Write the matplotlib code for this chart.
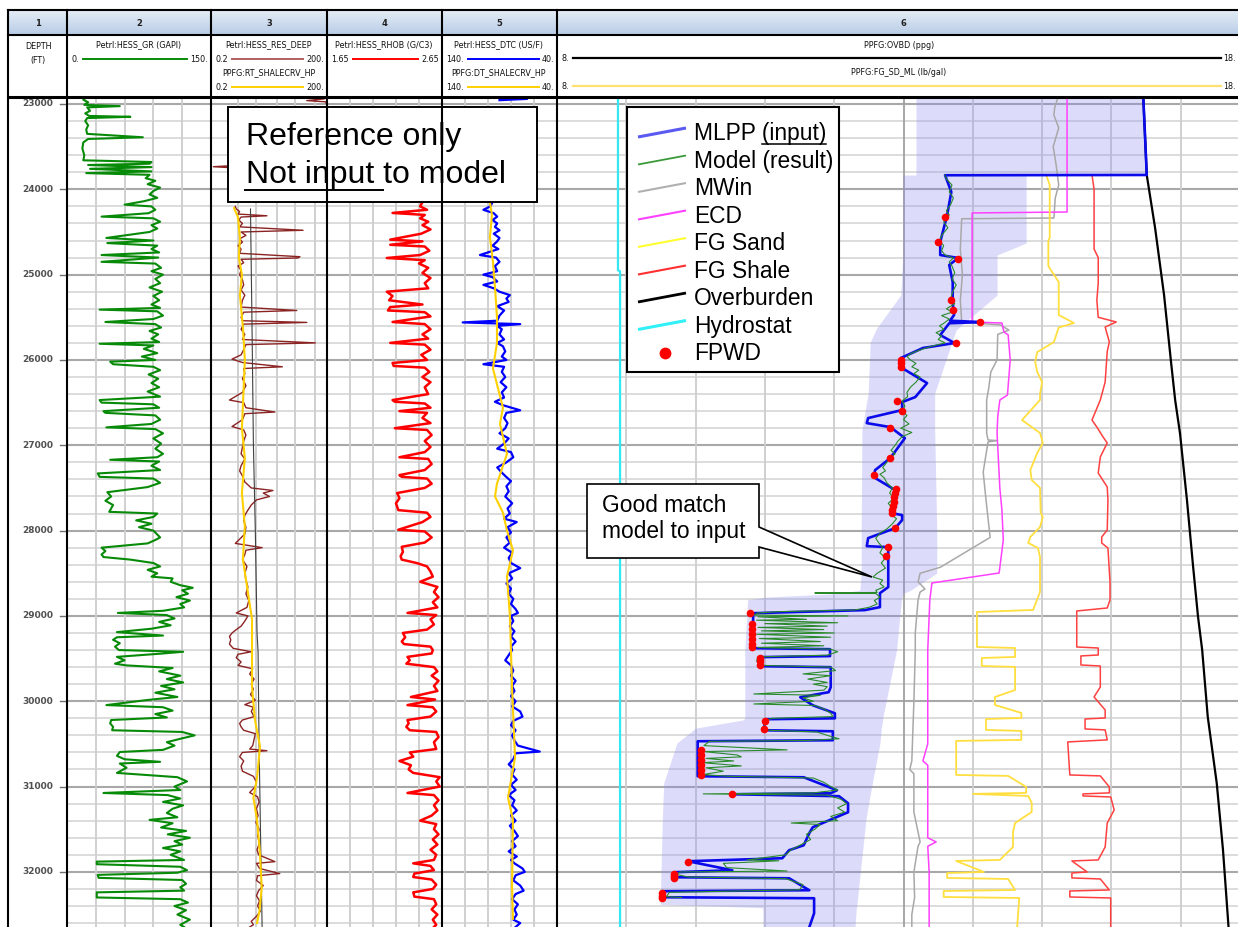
import numpy as np
import matplotlib.pyplot as plt
from matplotlib.colors import LinearSegmentedColormap
from matplotlib.patches import Rectangle, Polygon

nan = float('nan')

# ---------------- log curves: (depth ft, value) ----------------
GR = [
    (22918, 20), (22950, 17), (22980, 22), (23010, 18), (23025, 55), (23040, 21), (23080, 24),
    (23110, 19), (23140, 23), (23150, 66), (23165, 21), (23200, 19), (23250, 22), (23300, 20),
    (23350, 21), (23390, 79), (23410, 22), (23450, 17), (23520, 16), (23600, 18), (23660, 17),
    (23680, 88), (23700, 86), (23715, 22), (23740, 88), (23760, 24), (23790, 88), (23810, 20),
    (23830, 86), (23870, 82), (23900, 92), (23940, 84), (23980, 97), (24020, 90), (24060, 86),
    (24100, 94), (24140, 80), (24180, 60), (24200, 88), (24240, 92), (24280, 85), (24320, 36),
    (24340, 90), (24380, 97), (24420, 88), (24460, 94), (24500, 86), (24570, 41), (24600, 90),
    (24630, 42), (24660, 94), (24700, 88), (24740, 96), (24770, 36), (24800, 95), (24850, 36),
    (24870, 92), (24920, 98), (24960, 88), (25000, 100), (25050, 92), (25100, 97), (25150, 86),
    (25200, 99), (25250, 90), (25300, 96), (25350, 88), (25390, 97), (25410, 34), (25430, 94),
    (25480, 100), (25520, 90), (25555, 40), (25580, 92), (25620, 98), (25660, 86), (25700, 95),
    (25750, 88), (25790, 96), (25810, 34), (25830, 90), (25870, 80), (25920, 94), (25960, 78),
    (26000, 92), (26020, 45), (26050, 48), (26080, 90), (26120, 97), (26170, 85), (26220, 95),
    (26270, 88), (26320, 96), (26370, 84), (26430, 97), (26470, 34), (26500, 36), (26520, 90),
    (26560, 96), (26600, 38), (26620, 40), (26650, 92), (26700, 97), (26750, 88), (26790, 41),
    (26810, 92), (26860, 100), (26920, 90), (26980, 98), (27040, 92), (27100, 100), (27140, 94),
    (27170, 45), (27190, 96), (27240, 88), (27290, 97), (27330, 32), (27370, 34), (27390, 90),
    (27440, 97), (27490, 84), (27550, 42), (27600, 46), (27650, 40), (27700, 48), (27780, 44),
    (27800, 94), (27840, 90), (27880, 72), (27920, 88), (27960, 75), (28000, 90), (28080, 97),
    (28110, 92), (28150, 84), (28200, 36), (28240, 40), (28280, 36), (28310, 38), (28340, 66),
    (28380, 90), (28420, 97), (28460, 84), (28500, 94), (28540, 88), (28560, 110), (28600, 108),
    (28640, 118), (28670, 131), (28700, 120), (28740, 126), (28780, 114), (28820, 128),
    (28860, 118), (28900, 122), (28940, 100), (28965, 53), (28990, 104), (29030, 112),
    (29070, 96), (29110, 108), (29150, 88), (29190, 52), (29230, 100), (29250, 52), (29280, 48),
    (29320, 55), (29360, 50), (29400, 54), (29420, 121), (29440, 100), (29480, 52), (29520, 60),
    (29560, 50), (29580, 62), (29610, 110), (29650, 96), (29700, 118), (29740, 104),
    (29780, 121), (29820, 98), (29860, 112), (29900, 92), (29950, 115), (29985, 84), (30045, 41),
    (30070, 100), (30110, 110), (30150, 92), (30190, 104), (30220, 46), (30260, 45), (30300, 48),
    (30340, 47), (30360, 120), (30400, 133), (30440, 118), (30480, 104), (30520, 112),
    (30570, 100), (30595, 55), (30640, 52), (30680, 60), (30710, 97), (30730, 55), (30780, 62),
    (30840, 52), (30890, 115), (30940, 125), (31000, 112), (31040, 118), (31075, 38),
    (31100, 105), (31140, 118), (31180, 100), (31220, 121), (31260, 110), (31310, 104),
    (31360, 115), (31390, 86), (31430, 110), (31480, 98), (31520, 124), (31560, 105),
    (31600, 128), (31640, 112), (31680, 120), (31720, 100), (31760, 118), (31800, 108),
    (31860, 122), (31880, 31), (31910, 31), (31940, 118), (31980, 125), (32010, 115),
    (32035, 32), (32070, 33), (32095, 120), (32140, 124), (32180, 118), (32220, 122),
    (32240, 31), (32300, 31), (32320, 118), (32360, 126), (32400, 112), (32450, 124),
    (32500, 115), (32560, 128), (32620, 118), (32646, 122),
]

RES_DEEP = [
    (22918, 190), (22940, 170), (22960, 60), (22975, 190), (22990, 190), (23000, nan),
    (23720, 0.9), (23735, 0.23), (23750, 0.9), (23760, nan),
    (24200, 0.85), (24230, 0.9), (24260, 1.1), (24290, 1.0), (24310, 5.6), (24325, 1.2),
    (24360, 1.05), (24400, 1.3), (24440, 1.1), (24480, 48), (24500, 1.2), (24540, 1.6),
    (24580, 1.1), (24620, 1.3), (24660, 1.0), (24700, 1.2), (24750, 1.1), (24790, 40),
    (24805, 35), (24820, 1.2), (24860, 1.4), (24900, 1.0), (24950, 1.2), (25000, 1.1),
    (25060, 1.3), (25120, 1.4), (25180, 1.2), (25240, 1.5), (25300, 1.3), (25380, 1.2),
    (25420, 33), (25440, 1.4), (25500, 1.2), (25540, 1.3), (25560, 60), (25580, 1.4),
    (25640, 1.2), (25700, 1.5), (25760, 1.3), (25800, 100), (25820, 1.6), (25880, 1.4),
    (25940, 1.2), (25990, 0.7), (26030, 1.3), (26080, 14), (26100, 1.4), (26160, 1.5),
    (26220, 1.3), (26300, 1.6), (26380, 1.3), (26470, 0.6), (26500, 1.4), (26560, 1.6),
    (26610, 9), (26630, 1.5), (26700, 1.3), (26780, 0.7), (26820, 1.4), (26880, 1.6),
    (26950, 1.4), (27020, 1.3), (27100, 1.2), (27160, 1.5), (27240, 1.2), (27300, 1.1),
    (27360, 1.3), (27430, 1.5), (27500, 2.2), (27530, 8.0), (27560, 4.5), (27600, 6.5),
    (27640, 3.0), (27700, 2.2), (27760, 1.8), (27820, 1.5), (27880, 1.4), (27960, 1.6),
    (28040, 1.5), (28150, 0.85), (28200, 4.2), (28230, 1.6), (28280, 1.5), (28340, 1.3),
    (28420, 1.7), (28500, 1.5), (28580, 1.6), (28660, 1.8), (28740, 1.6), (28820, 1.9),
    (28900, 1.7), (28965, 0.9), (29000, 1.8), (29060, 1.5), (29120, 1.2), (29160, 0.9),
    (29200, 0.7), (29240, 0.6), (29280, 0.65), (29330, 0.6), (29380, 0.75), (29420, 2.2),
    (29450, 1.0), (29490, 0.9), (29540, 1.2), (29580, 1.0), (29620, 2.4), (29680, 2.0),
    (29740, 2.6), (29800, 2.2), (29860, 2.5), (29920, 2.1), (29990, 2.8), (30040, 1.5),
    (30070, 2.5), (30120, 2.2), (30180, 2.6), (30220, 1.3), (30260, 1.1), (30300, 1.2),
    (30340, 1.4), (30380, 2.8), (30450, 2.6), (30520, 2.4), (30560, 2.0), (30580, 5.6),
    (30600, 1.3), (30650, 1.1), (30700, 1.4), (30760, 1.2), (30820, 1.3), (30880, 2.5),
    (30950, 3.0), (31000, 2.8), (31070, 2.0), (31120, 3.2), (31180, 3.5), (31260, 3.0),
    (31340, 3.3), (31420, 2.9), (31500, 3.5), (31580, 3.2), (31660, 3.6), (31740, 3.1),
    (31800, 3.4), (31880, 9), (31900, 3.0), (31960, 3.6), (32020, 12), (32045, 3.2),
    (32100, 3.0), (32160, 4.5), (32220, 3.4), (32280, 3.0), (32340, 3.6), (32400, 3.2),
    (32460, 3.8), (32520, 3.0), (32580, 2.2), (32620, 2.5), (32646, 2.0),
]

RES_SHALE = [
    (24220, 0.79), (24330, 1.0), (24570, 1.12), (24800, 1.05), (25000, 1.26), (25240, 1.12),
    (25620, 1.34), (26000, 1.5), (26800, 1.26), (27150, 1.5), (27560, 1.26), (27950, 1.5),
    (28340, 1.34), (28730, 1.81), (29040, 2.3), (29830, 2.3), (30220, 2.74), (30530, 3.7),
    (30900, 3.1), (31130, 2.5), (31390, 3.1), (31790, 3.7), (32180, 4.1), (32450, 3.6),
    (32600, 3.1),
]

RES_BASE = [
    (24230, 2.1), (25600, 2.3), (27000, 2.5), (28000, 2.8), (29200, 3.1), (29420, 3.3),
    (30500, 3.5), (31500, 3.8), (32646, 4.2),
]

RHOB = [
    (24150, 2.48), (24200, 2.46), (24240, 2.52), (24277, 2.22), (24300, 2.50), (24340, 2.46),
    (24380, 2.53), (24420, 2.48), (24470, 2.55), (24520, 2.47), (24590, 2.20), (24610, 2.48),
    (24650, 2.20), (24670, 2.50), (24720, 2.54), (24770, 2.46), (24805, 2.17), (24830, 2.50),
    (24870, 2.45), (24920, 2.53), (24980, 2.48), (25040, 2.55), (25100, 2.50), (25160, 2.53),
    (25200, 2.17), (25250, 2.22), (25300, 2.19), (25350, 2.48), (25380, 2.20), (25420, 2.18),
    (25440, 2.50), (25490, 2.55), (25555, 2.22), (25580, 2.50), (25640, 2.55), (25700, 2.48),
    (25750, 2.53), (25800, 2.20), (25820, 2.50), (25880, 2.55), (25940, 2.47), (26000, 2.52),
    (26035, 2.22), (26070, 2.23), (26090, 2.50), (26140, 2.54), (26200, 2.48), (26260, 2.55),
    (26320, 2.50), (26400, 2.53), (26470, 2.22), (26490, 2.24), (26510, 2.50), (26560, 2.55),
    (26600, 2.28), (26620, 2.52), (26680, 2.48), (26740, 2.55), (26800, 2.24), (26820, 2.52),
    (26880, 2.56), (26950, 2.50), (27020, 2.55), (27080, 2.50), (27140, 2.28), (27160, 2.53),
    (27220, 2.56), (27290, 2.50), (27350, 2.28), (27370, 2.30), (27390, 2.52), (27450, 2.56),
    (27500, 2.50), (27560, 2.26), (27620, 2.28), (27680, 2.25), (27760, 2.27), (27790, 2.52),
    (27840, 2.55), (27900, 2.48), (27990, 2.27), (28010, 2.50), (28080, 2.56), (28140, 2.50),
    (28190, 2.30), (28250, 2.31), (28300, 2.29), (28340, 2.30), (28380, 2.43), (28420, 2.52),
    (28480, 2.55), (28540, 2.57), (28600, 2.46), (28660, 2.61), (28720, 2.58), (28780, 2.62),
    (28840, 2.57), (28900, 2.61), (28965, 2.35), (28990, 2.60), (29040, 2.55), (29100, 2.58),
    (29160, 2.52), (29200, 2.31), (29250, 2.33), (29300, 2.30), (29330, 2.32), (29360, 2.55),
    (29400, 2.57), (29440, 2.56), (29480, 2.35), (29520, 2.37), (29560, 2.34), (29600, 2.58),
    (29650, 2.61), (29700, 2.56), (29760, 2.62), (29820, 2.58), (29880, 2.61), (29950, 2.38),
    (29980, 2.59), (30045, 2.35), (30070, 2.57), (30120, 2.60), (30180, 2.55), (30220, 2.35),
    (30260, 2.36), (30300, 2.34), (30340, 2.37), (30360, 2.60), (30420, 2.62), (30480, 2.58),
    (30560, 2.60), (30600, 2.37), (30650, 2.40), (30700, 2.28), (30750, 2.38), (30800, 2.36),
    (30840, 2.40), (30890, 2.63), (30940, 2.60), (31000, 2.63), (31075, 2.35), (31100, 2.58),
    (31160, 2.62), (31220, 2.58), (31280, 2.61), (31340, 2.56), (31400, 2.46), (31440, 2.60),
    (31500, 2.58), (31560, 2.62), (31620, 2.57), (31680, 2.61), (31740, 2.55), (31800, 2.60),
    (31860, 2.58), (31900, 2.40), (31930, 2.55), (31980, 2.58), (32020, 2.41), (32060, 2.40),
    (32090, 2.56), (32150, 2.60), (32200, 2.57), (32240, 2.40), (32290, 2.41), (32320, 2.58),
    (32380, 2.60), (32440, 2.56), (32500, 2.61), (32560, 2.57), (32620, 2.60), (32646, 2.58),
]

DTC = [
    (22918, 92), (22940, 66), (22955, 90), (22970, nan),
    (24150, 96), (24200, 98), (24240, 104), (24280, 95), (24320, 92), (24360, 96), (24400, 92),
    (24440, 94), (24480, 90), (24520, 95), (24570, 90), (24610, 92), (24660, 96), (24700, 91),
    (24770, 107), (24800, 93), (24850, 90), (24900, 94), (24960, 92), (25000, 104), (25030, 96),
    (25080, 92), (25120, 104), (25160, 95), (25200, 90), (25240, 81), (25280, 84), (25320, 82),
    (25370, 92), (25420, 86), (25480, 90), (25540, 92), (25560, 122), (25580, 72), (25600, 92),
    (25640, 88), (25700, 90), (25760, 86), (25800, 92), (25840, 87), (25900, 85), (25960, 88),
    (26000, 84), (26050, 104), (26080, 86), (26140, 88), (26200, 85), (26260, 89), (26320, 84),
    (26380, 88), (26440, 86), (26490, 94), (26530, 87), (26590, 72), (26620, 84), (26680, 86),
    (26740, 83), (26800, 85), (26860, 90), (26920, 82), (26980, 86), (27040, 92), (27080, 80),
    (27140, 78), (27200, 84), (27260, 92), (27320, 88), (27360, 85), (27420, 80), (27480, 84),
    (27540, 82), (27600, 85), (27680, 79), (27740, 83), (27800, 81), (27860, 86), (27900, 75),
    (27960, 83), (28020, 80), (28080, 84), (28140, 81), (28200, 86), (28260, 79), (28320, 82),
    (28380, 80), (28440, 72), (28500, 82), (28560, 79), (28620, 84), (28680, 80), (28740, 82),
    (28800, 78), (28860, 80), (28920, 76), (28965, 74), (29000, 80), (29060, 78), (29120, 81),
    (29180, 77), (29240, 80), (29300, 76), (29360, 80), (29400, 79), (29460, 82), (29520, 85),
    (29580, 80), (29640, 78), (29700, 80), (29760, 76), (29820, 79), (29880, 77), (29940, 80),
    (30000, 76), (30060, 79), (30120, 72), (30180, 70), (30230, 78), (30280, 80), (30340, 76),
    (30400, 79), (30460, 77), (30520, 74), (30590, 55), (30610, 76), (30680, 78), (30740, 82),
    (30800, 77), (30860, 79), (30920, 75), (30980, 80), (31040, 76), (31100, 82), (31160, 77),
    (31220, 79), (31280, 75), (31340, 80), (31400, 76), (31460, 81), (31520, 77), (31580, 74),
    (31640, 79), (31700, 76), (31760, 82), (31820, 75), (31860, 80), (31900, 77), (31960, 70),
    (32000, 68), (32040, 76), (32100, 78), (32160, 72), (32220, 69), (32260, 76), (32320, 79),
    (32380, 74), (32440, 77), (32500, 75), (32560, 78), (32600, 72), (32646, 76),
]

DT_SHALE = [
    (24150, 98.3), (24300, 96.6), (24560, 98.3), (24850, 95.7), (25150, 93.9), (25500, 92.2),
    (25800, 92.2), (26100, 95.7), (26560, 87.0), (26750, 89.6), (27100, 83.5), (27450, 92.2),
    (27600, 93.9), (27790, 87.0), (28000, 83.5), (28230, 78.3), (28540, 83.5), (29010, 80.9),
    (29830, 79.1), (30660, 76.5), (31130, 82.6), (31390, 78.3), (32170, 79.1), (32550, 78.3),
]

# ---------------- pore pressure track: (depth ft, ppg) ----------------
MLPP = [
    (22918, 16.46), (23821, 16.51), (23832, 16.51), (23835, 13.60), (24031, 13.69), (24301, 13.63),
    (24617, 13.53), (24770, 13.53), (24805, 13.79), (24887, 13.66), (25086, 13.71), (25321, 13.71),
    (25473, 13.73), (25540, 13.67), (25556, 14.12), (25570, 13.66), (25708, 13.53), (25790, 13.71),
    (25801, 13.74), (25860, 13.28), (25978, 12.96), (26095, 12.98), (26271, 13.34), (26435, 13.17),
    (26494, 12.98), (26587, 12.98), (26681, 12.49), (26740, 12.47), (26787, 12.81), (26916, 13.02),
    (27150, 12.81), (27291, 12.59), (27373, 12.57), (27525, 12.88), (27795, 12.83), (27818, 12.98),
    (27877, 12.98), (27971, 12.88), (28088, 12.49), (28182, 12.47), (28194, 12.78), (28662, 12.78),
    (28733, 12.66), (28897, 12.66), (28932, 12.44), (28968, 10.83), (29378, 10.83), (29390, 11.94),
    (29471, 11.94), (29483, 10.93), (29589, 10.93), (29601, 11.95), (29836, 11.95), (29894, 11.92),
    (29953, 11.51), (30047, 11.69), (30141, 12.01), (30200, 12.01), (30211, 11.00), (30340, 10.99),
    (30352, 11.98), (30457, 11.98), (30469, 10.03), (30879, 10.03), (30891, 11.56), (31043, 12.04),
    (31078, 11.95), (31090, 10.53), (31113, 12.07), (31196, 12.20), (31301, 12.20), (31477, 11.69),
    (31547, 11.64), (31688, 11.56), (31746, 11.35), (31840, 11.25), (31875, 9.89), (31981, 10.53),
    (32004, 9.70), (32063, 9.70), (32075, 11.35), (32215, 11.64), (32227, 9.52), (32297, 9.52),
    (32309, 11.71), (32485, 11.71), (32650, 11.64),
]

MODEL = [
    (23832, 13.60), (23880, 13.62), (23950, 13.70), (24030, 13.66), (24100, 13.72), (24180, 13.68),
    (24250, 13.62), (24300, 13.66), (24380, 13.58), (24450, 13.64), (24530, 13.56), (24600, 13.52),
    (24660, 13.58), (24720, 13.55), (24770, 13.60), (24805, 13.72), (24850, 13.66), (24900, 13.70),
    (24980, 13.74), (25050, 13.70), (25120, 13.76), (25200, 13.71), (25280, 13.68), (25340, 13.74),
    (25400, 13.62), (25440, 13.70), (25480, 13.55), (25520, 13.66), (25560, 13.60), (25600, 13.52),
    (25640, 13.58), (25680, 13.47), (25720, 13.55), (25760, 13.50), (25800, 13.60), (25840, 13.40),
    (25880, 13.25), (25920, 13.12), (25960, 13.05), (26000, 13.10), (26040, 13.18), (26080, 13.12),
    (26120, 13.22), (26160, 13.15), (26200, 13.24), (26260, 13.18), (26320, 13.10), (26380, 13.05),
    (26430, 13.06), (26480, 12.98), (26540, 13.02), (26600, 12.98), (26650, 13.05), (26700, 13.00),
    (26750, 13.08), (26800, 12.96), (26850, 13.12), (26900, 12.98), (26950, 12.92), (27000, 12.88),
    (27060, 12.82), (27100, 12.88), (27150, 12.80), (27200, 12.76), (27260, 12.70), (27300, 12.74),
    (27340, 12.66), (27380, 12.72), (27440, 12.76), (27500, 12.84), (27560, 12.80), (27620, 12.86),
    (27680, 12.78), (27740, 12.84), (27800, 12.80), (27860, 12.90), (27920, 12.84), (27980, 12.76),
    (28030, 12.66), (28090, 12.60), (28140, 12.64), (28200, 12.70), (28260, 12.66), (28320, 12.74),
    (28380, 12.68), (28440, 12.74), (28500, 12.62), (28544, 12.56), (28580, 12.70), (28620, 12.66),
    (28660, 12.72), (28700, 12.60), (28725, 12.62), (28731, 11.72), (28737, 12.60), (28780, 12.66),
    (28820, 12.58), (28860, 12.62), (28900, 12.50), (28930, 12.30), (28950, 11.20), (28965, 10.90),
    (28990, 10.85), (29000, 12.20), (29010, 10.90), (29040, 11.60), (29050, 10.88), (29080, 12.05),
    (29090, 11.00), (29120, 11.90), (29135, 10.90), (29160, 11.85), (29175, 10.95), (29200, 12.00),
    (29215, 10.88), (29250, 11.95), (29265, 10.92), (29300, 11.80), (29320, 10.95), (29350, 11.85),
    (29370, 10.90), (29390, 11.95), (29420, 12.05), (29460, 11.90), (29480, 10.90), (29530, 10.88),
    (29580, 10.95), (29600, 11.95), (29640, 12.02), (29680, 11.55), (29700, 11.95), (29740, 11.62),
    (29780, 11.90), (29800, 11.70), (29830, 11.90), (29870, 11.85), (29915, 10.84), (29930, 11.80),
    (29960, 11.55), (30000, 11.70), (30032, 10.84), (30050, 11.72), (30090, 11.85), (30140, 11.95),
    (30180, 11.98), (30200, 11.10), (30240, 10.98), (30300, 11.00), (30340, 11.05), (30360, 11.75),
    (30400, 11.90), (30440, 12.07), (30460, 11.60), (30470, 10.20), (30520, 10.12), (30570, 11.32),
    (30590, 10.12), (30630, 10.60), (30652, 10.66), (30670, 10.15), (30700, 10.55), (30720, 10.10),
    (30758, 10.66), (30780, 10.15), (30820, 10.40), (30860, 10.10), (30880, 10.50), (30900, 11.70),
    (30950, 11.85), (31000, 11.95), (31040, 12.05), (31074, 11.70), (31086, 10.11), (31100, 11.90),
    (31150, 12.10), (31200, 12.18), (31250, 12.05), (31300, 12.15), (31350, 11.95), (31400, 12.05),
    (31427, 11.38), (31445, 11.80), (31500, 11.72), (31560, 11.60), (31620, 11.66), (31690, 11.50),
    (31740, 11.38), (31800, 11.30), (31860, 10.74), (31870, 11.20), (31900, 10.40), (31950, 10.45),
    (31990, 11.32), (32001, 9.78), (32030, 9.72), (32060, 9.90), (32080, 11.30), (32150, 11.55),
    (32210, 11.50), (32240, 9.62), (32290, 9.58), (32300, 9.80),
]

MWIN = [
    (22918, 15.23), (23050, 15.18), (23130, 15.17), (23280, 15.24), (23500, 15.16), (23700, 15.20),
    (23950, 15.24), (24100, 15.19), (24336, 15.17), (24345, 13.84), (24700, 13.82), (25000, 13.85),
    (25300, 13.82), (25555, 13.84), (25590, 14.40), (25650, 14.52), (25700, 14.36), (26000, 14.35),
    (26141, 14.26), (26330, 14.23), (26470, 14.20), (26860, 14.20), (26938, 14.22), (26945, 14.35),
    (26960, 14.22), (27313, 14.15), (27559, 14.18), (28080, 14.25), (28430, 13.53), (28500, 13.24),
    (28600, 13.21), (28684, 13.31), (28720, 13.24), (28813, 13.21), (29200, 13.17), (29400, 13.17),
    (30000, 13.15), (30700, 13.12), (30800, 13.09), (30850, 13.15), (31300, 13.15), (31650, 13.24),
    (31700, 13.21), (32000, 13.15), (32300, 13.16), (32500, 13.12), (32646, 13.12),
]

ECD = [
    (22918, 15.36), (24266, 15.36), (24277, 13.99), (25555, 13.99), (25567, 14.42), (25672, 14.45),
    (25707, 14.51), (26000, 14.54), (26411, 14.50), (26470, 14.39), (26668, 14.36), (26856, 14.35),
    (27500, 14.39), (27758, 14.42), (28110, 14.44), (28497, 14.38), (28614, 13.41), (28813, 13.38),
    (29400, 13.35), (30500, 13.35), (30700, 13.28), (30750, 13.35), (31600, 13.35), (31649, 13.47),
    (31700, 13.35), (32000, 13.37), (32646, 13.37),
]

FG_SAND = [
    (23832, 15.06), (23950, 15.11), (24570, 15.11), (24600, 15.09), (24900, 15.09), (25000, 15.17),
    (25086, 15.24), (25473, 15.24), (25567, 15.46), (25620, 15.24), (25790, 15.17), (25907, 14.93),
    (26024, 14.90), (26141, 14.93), (26260, 15.00), (26400, 14.97), (26469, 14.97), (26704, 14.71),
    (26786, 14.85), (26856, 14.97), (26973, 15.01), (27090, 14.93), (27290, 14.83), (27407, 14.85),
    (27500, 14.97), (27793, 14.98), (27840, 15.01), (27958, 14.97), (28075, 14.83), (28145, 14.80),
    (28204, 14.94), (28309, 14.97), (28719, 14.97), (28930, 14.87), (28954, 14.06), (29364, 14.06),
    (29376, 14.61), (29481, 14.61), (29493, 14.13), (29587, 14.13), (29598, 14.61), (29868, 14.61),
    (29950, 14.32), (30044, 14.32), (30137, 14.70), (30196, 14.70), (30208, 14.19), (30336, 14.19),
    (30348, 14.70), (30453, 14.70), (30465, 13.76), (30864, 13.76), (30875, 14.51), (31004, 14.77),
    (31074, 14.77), (31086, 14.00), (31110, 14.80), (31192, 14.85), (31298, 14.85), (31427, 14.61),
    (31532, 14.58), (31708, 14.58), (31860, 14.39), (31872, 13.76), (32001, 14.16), (32013, 13.63),
    (32071, 13.63), (32083, 14.51), (32212, 14.61), (32224, 13.58), (32294, 13.58), (32306, 14.67),
    (32646, 14.64),
]

FG_SHALE = [
    (23832, 15.72), (24000, 15.75), (24700, 15.75), (24800, 15.81), (25100, 15.81), (25300, 15.79),
    (25500, 15.81), (25555, 16.07), (25614, 15.91), (25789, 15.97), (25900, 15.94), (26258, 15.91),
    (26469, 15.84), (26704, 15.72), (26786, 15.79), (26903, 15.88), (26973, 15.94), (27137, 15.84),
    (27325, 15.81), (27489, 15.94), (27641, 15.95), (27993, 15.94), (28075, 15.86), (28145, 15.86),
    (28204, 15.95), (28602, 15.98), (28813, 15.98), (28907, 15.94), (28942, 15.50), (29364, 15.50),
    (29376, 15.81), (29458, 15.81), (29469, 15.56), (29575, 15.56), (29587, 15.84), (29833, 15.84),
    (29950, 15.75), (30102, 15.91), (30196, 15.91), (30208, 15.62), (30325, 15.62), (30336, 15.91),
    (30453, 15.94), (30477, 15.37), (30864, 15.40), (30875, 15.84), (31004, 15.97), (31074, 15.97),
    (31086, 15.59), (31110, 15.59), (31122, 15.99), (31274, 16.04), (31427, 15.94), (31708, 15.91),
    (31860, 15.81), (31872, 15.43), (32001, 15.65), (32013, 15.43), (32071, 15.43), (32083, 15.84),
    (32212, 15.97), (32224, 15.40), (32294, 15.40), (32306, 15.99), (32646, 15.99),
]

OVBD = [
    (22918, 16.46), (23832, 16.51), (24450, 16.63), (25240, 16.76), (26020, 16.86), (26470, 16.92),
    (26860, 16.99), (27640, 17.09), (28430, 17.18), (29010, 17.25), (29400, 17.31), (30180, 17.39),
    (30960, 17.52), (31740, 17.61), (32530, 17.68), (32646, 17.69),
]

HYDRO = [(22918, 8.88), (24950, 8.88), (24960, 8.91), (32646, 8.91)]

FPWD = [
    (24324, 13.60), (24617, 13.50), (24817, 13.79), (25297, 13.69), (25414, 13.71), (25555, 14.10),
    (25801, 13.76), (26000, 12.96), (26040, 12.96), (26080, 12.96), (26481, 12.91), (26598, 12.98),
    (26797, 12.81), (27149, 12.80), (27348, 12.57), (27512, 12.89), (27560, 12.88), (27610, 12.87),
    (27660, 12.86), (27710, 12.85), (27760, 12.84), (27793, 12.83), (27969, 12.88), (28192, 12.78),
    (28297, 12.75), (28965, 10.78), (29090, 10.81), (29150, 10.81), (29210, 10.81), (29270, 10.81),
    (29330, 10.81), (29370, 10.81), (29493, 10.93), (29530, 10.93), (29575, 10.93), (30231, 11.00),
    (30325, 10.99), (30570, 10.08), (30630, 10.08), (30690, 10.08), (30750, 10.08), (30810, 10.08),
    (30864, 10.08), (31086, 10.53), (31884, 9.89), (32020, 9.69), (32050, 9.69), (32071, 9.69),
    (32250, 9.52), (32280, 9.52), (32306, 9.52),
]

# uncertainty envelope around the MLPP input
ENV_DEPTH = [22918, 23832, 23833, 24630, 24770, 25240, 25620, 25650, 25790, 26390, 26820, 28000,
             28380, 28500, 28700, 28740, 28780, 28810, 29400, 30200, 30220, 30315, 30490, 30960,
             31370, 32365, 32380, 32420, 32646]
ENV_LOW = [13.18, 13.18, 12.99, 12.99, 12.99, 12.96, 12.62, 12.60, 12.52, 12.49, 12.40, 12.39,
           12.39, 12.39, 12.37, 12.00, 11.00, 10.75, 10.71, 10.71, 10.68, 10.00, 9.73, 9.54,
           9.52, 9.49, 9.49, 10.97, 10.97]
ENV_HIGH = [16.46, 16.51, 14.77, 14.77, 14.35, 14.35, 13.80, 13.76, 13.70, 13.45, 13.45, 13.48,
            13.48, 13.48, 13.10, 12.99, 12.98, 12.97, 12.90, 12.70, 12.70, 12.68, 12.66, 12.55,
            12.46, 12.33, 12.33, 12.32, 12.30]

DEPTH_TOP, DEPTH_BOT = 22918, 32646
DEPTH_LABELS = list(range(23000, 32001, 1000))

# ---------------- layout (pixels) ----------------
W, H = 1238, 927
TOP = 97
EDGES = [8, 67, 211, 327, 442, 557, 1250]
LIMITS = [(0, 1), (0, 150), (0.2, 200), (1.65, 2.65), (140, 40), (8, 18)]
SCALES = ['linear', 'linear', 'log', 'linear', 'linear', 'linear']
VGRID = [[], [30, 60, 90, 120], [1, 3, 10, 30, 100], [1.85, 2.05, 2.25, 2.45],
         [120, 100, 80, 60], list(range(9, 18))]


def xy(curve):
    a = np.array(curve, dtype=float)
    return a[:, 1], a[:, 0]


fig = plt.figure(figsize=(W / 100, H / 100), dpi=100)
fig.patch.set_facecolor('white')

tracks = []
for i in range(6):
    x0, x1 = EDGES[i], EDGES[i + 1]
    ax = fig.add_axes([x0 / W, 0, (x1 - x0) / W, (H - TOP) / H])
    ax.set_xscale(SCALES[i])
    ax.set_xlim(*LIMITS[i])
    ax.set_ylim(DEPTH_BOT, DEPTH_TOP)
    ax.axis('off')
    tracks.append(ax)
    if i == 0:
        continue
    for d in range(23000, DEPTH_BOT, 200):
        if d % 1000 == 0:
            ax.axhline(d, color='#a8a8a8', lw=1.5, zorder=0.3)
        else:
            ax.axhline(d, color='#d6d6d6', lw=1.2, zorder=0.3)
    for v in VGRID[i]:
        dark = i == 5 and v == 13
        ax.axvline(v, color='#a0a0a0' if dark else '#cdcdcd', lw=1.3, zorder=0.3)

# depth track
ax = tracks[0]
for d in DEPTH_LABELS:
    ax.text(0.5, d, str(d), ha='center', va='center', fontsize=6.5, fontweight='bold',
            color='#505050')
    ax.plot([0.88, 1.0], [d, d], color='#707070', lw=1.0)

# gamma ray
x, y = xy(GR)
tracks[1].plot(x, y, color='#078a07', lw=1.5)

# resistivity
x, y = xy(RES_DEEP)
tracks[2].plot(x, y, color='#8b2323', lw=1.0)
x, y = xy(RES_BASE)
tracks[2].plot(x, y, color='#404040', lw=0.8)
x, y = xy(RES_SHALE)
tracks[2].plot(x, y, color='#ffd000', lw=1.5)

# density
x, y = xy(RHOB)
tracks[3].plot(x, y, color='#ff0000', lw=1.8)

# sonic
x, y = xy(DTC)
tracks[4].plot(x, y, color='#0000ff', lw=1.6)
x, y = xy(DT_SHALE)
tracks[4].plot(x, y, color='#ffd000', lw=1.5)

# pore pressure / fracture gradient track
ax6 = tracks[5]
ax6.fill_betweenx(ENV_DEPTH, ENV_LOW, ENV_HIGH, color='#8c8cf0', alpha=0.3, lw=0, zorder=1)
x, y = xy(HYDRO)
ax6.plot(x, y, color='#33e8f2', lw=1.6, zorder=2)
x, y = xy(OVBD)
ax6.plot(x, y, color='black', lw=1.6, zorder=2)
x, y = xy(MWIN)
ax6.plot(x, y, color='#a8a8a8', lw=1.1, zorder=2)
x, y = xy(ECD)
ax6.plot(x, y, color='#ff40ff', lw=1.1, zorder=2)
x, y = xy(FG_SAND)
ax6.plot(x, y, color='#ffdf40', lw=1.3, zorder=2)
x, y = xy(FG_SHALE)
ax6.plot(x, y, color='#ff4040', lw=1.1, zorder=2)
x, y = xy(MLPP)
ax6.plot(x, y, color='#0a0aea', lw=1.9, zorder=3)
x, y = xy(MODEL)
ax6.plot(x, y, color='#2a8a2a', lw=0.8, zorder=4)
x, y = xy(FPWD)
ax6.plot(x, y, 'o', color='#ff0000', ms=5.5, mec='none', zorder=5)

# ---------------- headers, frame and annotations ----------------
ov = fig.add_axes([0, 0, 1, 1], zorder=10)
ov.patch.set_alpha(0)
grad = np.linspace(0, 1, 64).reshape(-1, 1)
cmap = LinearSegmentedColormap.from_list('hdr', ['#e4ecf6', '#b9cde6'])
ov.imshow(grad, extent=(8, W, 35, 10), aspect='auto', cmap=cmap, origin='upper', zorder=0)
ov.set_xlim(0, W)
ov.set_ylim(H, 0)
ov.axis('off')
renderer = fig.canvas.get_renderer()


def width(t):
    return t.get_window_extent(renderer).width


hdr = dict(fontsize=5.8, color='#111111', family='DejaVu Sans')


def scale_row(i, y, left, right, color, lw=1.4, right_x=None):
    x0, x1 = EDGES[i], EDGES[i + 1]
    if right_x is None:
        right_x = x1 - 3
    tl = ov.text(x0 + 4, y, left, ha='left', va='center', **hdr)
    tr = ov.text(right_x, y, right, ha='right', va='center', **hdr)
    ov.plot([x0 + 4 + width(tl) + 4, right_x - width(tr) - 3], [y, y], color=color, lw=lw)


for i in range(6):
    cx = (EDGES[i] + EDGES[i + 1]) / 2
    ov.text(cx, 23, str(i + 1), ha='center', va='center', fontsize=6, fontweight='bold',
            color='#202020')

ov.text(38, 46, 'DEPTH', ha='center', va='center', **hdr)
ov.text(38, 60, '(FT)', ha='center', va='center', **hdr)

ov.text(139, 45, 'Petrl:HESS_GR (GAPI)', ha='center', va='center', **hdr)
scale_row(1, 59, '0.', '150.', '#078a07')

ov.text(269, 45, 'Petrl:HESS_RES_DEEP', ha='center', va='center', **hdr)
scale_row(2, 59, '0.2', '200.', '#b06060')
ov.text(269, 73, 'PPFG:RT_SHALECRV_HP', ha='center', va='center', **hdr)
scale_row(2, 87, '0.2', '200.', '#ffd000')

ov.text(384, 45, 'Petrl:HESS_RHOB (G/C3)', ha='center', va='center', **hdr)
scale_row(3, 59, '1.65', '2.65', '#ff0000')

ov.text(499, 45, 'Petrl:HESS_DTC (US/F)', ha='center', va='center', **hdr)
scale_row(4, 59, '140.', '40.', '#0000ff')
ov.text(499, 73, 'PPFG:DT_SHALECRV_HP', ha='center', va='center', **hdr)
scale_row(4, 87, '140.', '40.', '#ffd000')

c6 = 899
ov.text(c6, 45, 'PPFG:OVBD (ppg)', ha='center', va='center', **hdr)
scale_row(5, 58, '8.', '18.', 'black', lw=1.6, right_x=1236)
ov.text(c6, 72, 'PPFG:FG_SD_ML (lb/gal)', ha='center', va='center', **hdr)
scale_row(5, 86, '8.', '18.', '#ffe070', lw=1.6, right_x=1236)

for xb in EDGES[:6]:
    ov.plot([xb, xb], [10, H], color='black', lw=1.5)
ov.plot([8, W], [10, 10], color='black', lw=1.5)
ov.plot([8, W], [35, 35], color='black', lw=1.5)
ov.plot([8, W], [97, 97], color='black', lw=2.2)

big = dict(family='Liberation Sans', color='black')

# "Reference only" note over the log tracks
ov.add_patch(Rectangle((228, 107), 309, 95, facecolor='white', edgecolor='black', lw=1.4))
ov.text(246, 145, 'Reference only', ha='left', va='baseline', fontsize=23, **big)
t_all = ov.text(246, 183, 'Not input to model', ha='left', va='baseline', fontsize=23, **big)
t_end = ov.text(0, 0, 'to model', fontsize=23, **big)
w_end = width(t_end)
t_end.remove()
ov.plot([245, 246 + width(t_all) - w_end], [190, 190], color='black', lw=1.4)

# legend
ov.add_patch(Rectangle((627, 107), 212, 265, facecolor='white', edgecolor='black', lw=1.5))
legend_rows = [
    ('MLPP (input)', '#5a5af2', 2.2), ('Model (result)', '#3a9a3a', 1.3),
    ('MWin', '#b0b0b0', 1.5), ('ECD', '#ff40ff', 1.5), ('FG Sand', '#ffff30', 1.5),
    ('FG Shale', '#ff3030', 1.5), ('Overburden', 'black', 2.0), ('Hydrostat', '#30f0f8', 2.2),
    ('FPWD', None, 0),
]
for k, (label, color, lw) in enumerate(legend_rows):
    base = 140 + 27.5 * k
    t = ov.text(694, base, label, ha='left', va='baseline', fontsize=16.4, **big)
    if color is None:
        ov.plot(665, base - 7, 'o', color='#ff0000', ms=8.5, mec='none')
    else:
        ov.plot([638, 686], [base - 3, base - 12], color=color, lw=lw, solid_capstyle='butt')
    if k == 0:
        t_inp = ov.text(0, 0, '(input)', fontsize=16.4, **big)
        w_inp = width(t_inp)
        t_inp.remove()
        w_full = width(t)
        ov.plot([694 + w_full - w_inp, 694 + w_full], [base + 4, base + 4], color='black', lw=1.1)

# callout
ov.add_patch(Polygon([(587, 484), (759, 484), (759, 527), (872, 577), (759, 547),
                      (759, 558), (587, 558)], closed=True, facecolor='white',
                     edgecolor='black', lw=1.2))
ov.text(602, 512, 'Good match', ha='left', va='baseline', fontsize=16.4, **big)
ov.text(602, 538, 'model to input', ha='left', va='baseline', fontsize=16.4, **big)

fig.savefig('out.png', dpi=100)
